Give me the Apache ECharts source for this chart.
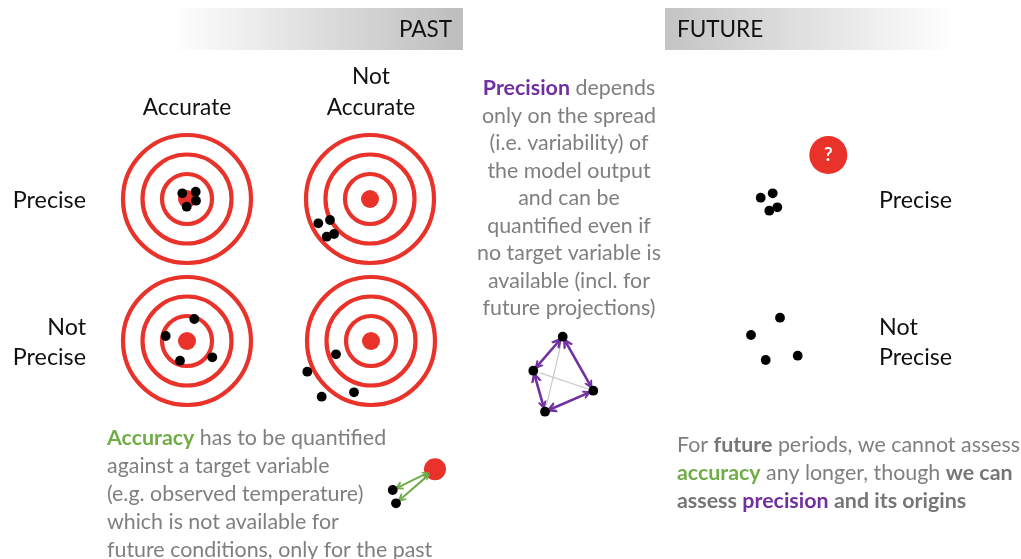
<!DOCTYPE html>
<html><head><meta charset="utf-8">
<script src="https://cdn.jsdelivr.net/npm/echarts@6/dist/echarts.min.js"></script>
<style>html,body{margin:0;padding:0;background:#fff}#c{width:1021px;height:559px}</style>
</head><body><div id="c"></div>
<script>
// ---- data (pixel-space coordinates on hidden 1:1 axes) ----
const targetCenters = [[187, 199], [370, 199], [187, 341], [371, 341]];
const ringRadii = [64, 44.5, 25];
const bullseyeRadius = 9;
const hitsAccuratePrecise = [[182.3, 193.3], [195.7, 191.7], [196, 200.7], [186.7, 206.7]];
const hitsNotAccuratePrecise = [[318.3, 223.3], [330, 220], [334, 234], [326.7, 236.7]];
const hitsAccurateNotPrecise = [[194.3, 319], [165.7, 336], [212.3, 357.3], [180, 360.7]];
const hitsNotAccurateNotPrecise = [[336, 354.3], [307.3, 371.7], [354, 392.3], [321.7, 396.7]];
const futurePrecise = [[760.7, 197.7], [772.7, 193.3], [777.3, 207.3], [769.3, 210.7]];
const futureNotPrecise = [[780, 317.7], [751, 335], [797.7, 355.7], [765.7, 360]];
const unknownTarget = [[828.3, 155]];
const spreadPoints = [[562.7, 336.7], [533.3, 370.7], [593.3, 390.7], [545, 411.7]];
const spreadArrowPairs = [[0, 1], [0, 2], [1, 3], [3, 2]];
const spreadGreyPairs = [[0, 3], [2, 1]];
const accuracyObs = [[435, 469.3]];
const accuracyModel = [[392.7, 490], [396, 503.3]];

const RED = '#e8322a', GREEN = '#70ad47', PURPLE = '#7030a0', GREY = '#7f7f7f';
const FONT = 'Lato, "Open Sans", sans-serif';
const CHEVRON = 'path://M5,0 L10,9 L7.6,9 L5,4.4 L2.4,9 L0,9 Z';

function shrink(a, b, da, db) {
  const dx = b[0] - a[0], dy = b[1] - a[1], L = Math.hypot(dx, dy);
  return [[a[0] + dx * da / L, a[1] + dy * da / L], [b[0] - dx * db / L, b[1] - dy * db / L]];
}

const ringData = [];
targetCenters.forEach(c => ringRadii.forEach(r => ringData.push([c[0], c[1], r])));

const series = [
  { type: 'scatter', name: 'rings', data: ringData, symbol: 'circle',
    symbolSize: v => v[2] * 2, silent: true,
    itemStyle: { color: 'rgba(0,0,0,0)', borderColor: RED, borderWidth: 4.2, opacity: 1 }, z: 2 },
  { type: 'scatter', name: 'bullseye', data: targetCenters, symbolSize: bullseyeRadius * 2,
    itemStyle: { color: RED, opacity: 1 }, z: 3 },
  { type: 'scatter', name: 'hits',
    data: [].concat(hitsAccuratePrecise, hitsNotAccuratePrecise, hitsAccurateNotPrecise,
      hitsNotAccurateNotPrecise, futurePrecise, futureNotPrecise, spreadPoints, accuracyModel),
    symbolSize: 9.8, itemStyle: { color: '#000', opacity: 1 }, z: 6 },
  { type: 'scatter', name: 'unknown', data: unknownTarget, symbolSize: 38,
    itemStyle: { color: RED, opacity: 1 }, z: 4,
    label: { show: true, position: 'inside', formatter: '?', color: '#fff',
      fontFamily: FONT, fontSize: 19, fontWeight: 'bold' } },
  { type: 'scatter', name: 'obs', data: accuracyObs, symbolSize: 22, itemStyle: { color: RED, opacity: 1 }, z: 4 },
  { type: 'lines', coordinateSystem: 'cartesian2d', name: 'grey',
    data: spreadGreyPairs.map(p => ({ coords: shrink(spreadPoints[p[0]], spreadPoints[p[1]], 6, 7) })),
    symbol: ['none', 'none'], lineStyle: { color: '#c9c9c9', width: 1.2, opacity: 1 }, z: 4 },
  { type: 'lines', coordinateSystem: 'cartesian2d', name: 'spread',
    data: spreadArrowPairs.map(p => ({ coords: shrink(spreadPoints[p[0]], spreadPoints[p[1]], 6, 6) })),
    symbol: [CHEVRON, CHEVRON], symbolSize: [11, 9],
    lineStyle: { color: PURPLE, width: 2.6, opacity: 1 }, z: 5 },
  { type: 'lines', coordinateSystem: 'cartesian2d', name: 'acc',
    data: accuracyModel.map(m => ({ coords: shrink(m, accuracyObs[0], 6, 10) })),
    symbol: [CHEVRON, CHEVRON], symbolSize: [9, 7],
    lineStyle: { color: GREEN, width: 2, opacity: 1 }, z: 5 }
];

function txt(x, y, text, o) {
  o = o || {};
  const size = o.size || 21.4;
  const base = (o.bold ? 'bold ' : '') + size + 'px ' + FONT;
  return { type: 'text', x: x, y: y, z: 10, silent: true,
    style: { text: text, font: base, fill: o.fill || GREY, textAlign: o.align || 'left',
      textVerticalAlign: 'middle',
      rich: {
        p: { font: 'bold ' + size + 'px ' + FONT, fill: PURPLE },
        g: { font: 'bold ' + size + 'px ' + FONT, fill: GREEN },
        b: { font: 'bold ' + size + 'px ' + FONT, fill: '#767676' },
        n: { font: size + 'px ' + FONT, fill: o.fill || GREY }
      } } };
}

const LBL = '#111';
const graphic = [
  { type: 'rect', shape: { x: 170, y: 8, width: 293, height: 42 }, z: 1,
    style: { fill: { type: 'linear', x: 0, y: 0, x2: 1, y2: 0,
      colorStops: [{ offset: 0, color: '#ffffff' }, { offset: 1, color: '#bdbdbd' }] } } },
  { type: 'rect', shape: { x: 665, y: 8, width: 290, height: 42 }, z: 1,
    style: { fill: { type: 'linear', x: 0, y: 0, x2: 1, y2: 0,
      colorStops: [{ offset: 0, color: '#c4c4c4' }, { offset: 1, color: '#ffffff' }] } } },
  txt(452, 30, 'PAST', { size: 22.5, fill: LBL, align: 'right' }),
  txt(677, 30, 'FUTURE', { size: 22.5, fill: LBL }),
  txt(187, 108, 'Accurate', { size: 22.7, fill: LBL, align: 'center' }),
  txt(371, 77, 'Not', { size: 22.7, fill: LBL, align: 'center' }),
  txt(371, 108, 'Accurate', { size: 22.7, fill: LBL, align: 'center' }),
  txt(86, 200, 'Precise', { size: 23.3, fill: LBL, align: 'right' }),
  txt(86, 327, 'Not', { size: 23.3, fill: LBL, align: 'right' }),
  txt(86, 357, 'Precise', { size: 23.3, fill: LBL, align: 'right' }),
  txt(879, 200, 'Precise', { size: 23.3, fill: LBL }),
  txt(879, 327, 'Not', { size: 23.3, fill: LBL }),
  txt(879, 357, 'Precise', { size: 23.3, fill: LBL })
];

const midLines = ['{p|Precision} depends', 'only on the spread', '(i.e. variability) of',
  'the model output', 'and can be', 'quantified even if', 'no target variable is',
  'available (incl. for', 'future projections)'];
midLines.forEach((l, i) => graphic.push(txt(569, 88.3 + i * 27.5, l, { align: 'center' })));

const accLines = ['{g|Accuracy} has to be quantified', 'against a target variable',
  '(e.g. observed temperature)', 'which is not available for', 'future conditions, only for the past'];
accLines.forEach((l, i) => graphic.push(txt(107, 438.3 + i * 28, l)));

const futLines = ['For {b|future} periods, we cannot assess', '{g|accuracy} any longer, though {b|we can}',
  '{b|assess} {p|precision} {b|and its origins}'];
futLines.forEach((l, i) => graphic.push(txt(677, 445 + i * 28.3, l)));

const chart = echarts.init(document.getElementById('c'), null, { renderer: 'canvas' });
chart.setOption({
  animation: false,
  grid: { left: 0, right: 0, top: 0, bottom: 0, containLabel: false },
  xAxis: { type: 'value', min: 0, max: 1021, show: false },
  yAxis: { type: 'value', min: 0, max: 559, inverse: true, show: false },
  series: series,
  graphic: graphic
});
</script></body></html>
